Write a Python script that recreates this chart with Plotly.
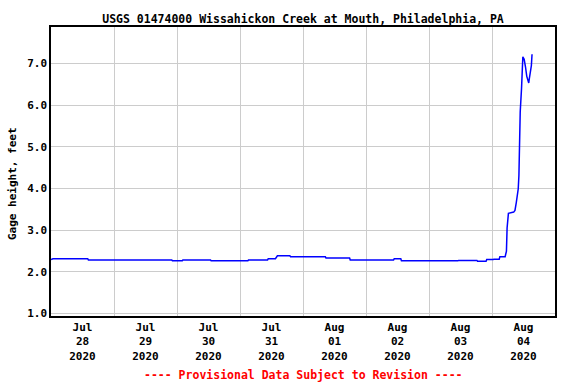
import plotly.graph_objects as go

# Gage height readings (feet)
times = [
    "2020-07-28 00:00", "2020-07-28 00:45", "2020-07-28 14:00", "2020-07-28 14:15",
    "2020-07-29 22:00", "2020-07-29 22:15", "2020-07-30 02:00", "2020-07-30 02:15",
    "2020-07-30 12:45", "2020-07-30 13:00", "2020-07-31 03:00", "2020-07-31 03:15",
    "2020-07-31 10:30", "2020-07-31 10:45", "2020-07-31 13:30", "2020-07-31 14:15",
    "2020-07-31 19:00", "2020-07-31 19:15", "2020-08-01 08:30", "2020-08-01 08:45",
    "2020-08-01 17:45", "2020-08-01 18:00", "2020-08-02 10:30", "2020-08-02 10:45",
    "2020-08-02 13:15", "2020-08-02 13:30", "2020-08-03 11:00", "2020-08-03 11:15",
    "2020-08-03 18:15", "2020-08-03 18:30", "2020-08-03 21:45", "2020-08-03 22:00",
    "2020-08-04 00:30", "2020-08-04 00:45", "2020-08-04 02:45", "2020-08-04 03:00",
    "2020-08-04 05:00", "2020-08-04 05:15", "2020-08-04 05:30", "2020-08-04 05:45",
    "2020-08-04 06:15", "2020-08-04 08:15", "2020-08-04 08:45", "2020-08-04 09:15",
    "2020-08-04 10:00", "2020-08-04 10:15", "2020-08-04 10:30", "2020-08-04 10:45",
    "2020-08-04 11:15", "2020-08-04 11:30", "2020-08-04 11:45", "2020-08-04 12:15",
    "2020-08-04 12:30", "2020-08-04 12:45", "2020-08-04 13:15", "2020-08-04 13:45",
    "2020-08-04 14:00", "2020-08-04 14:15", "2020-08-04 14:45", "2020-08-04 15:00",
    "2020-08-04 15:15",
]
gage_height = [
    2.29, 2.31, 2.31, 2.28,
    2.28, 2.26, 2.26, 2.28,
    2.28, 2.26, 2.26, 2.28,
    2.28, 2.31, 2.31, 2.38,
    2.38, 2.36, 2.36, 2.33,
    2.33, 2.28, 2.28, 2.31,
    2.31, 2.26, 2.26, 2.27,
    2.27, 2.25, 2.25, 2.29,
    2.29, 2.30, 2.30, 2.36,
    2.36, 2.42, 2.49, 3.05,
    3.40, 3.43, 3.47, 3.66,
    3.99, 4.31, 5.00, 5.84,
    6.40, 7.13, 7.16, 7.10,
    7.04, 6.92, 6.69, 6.57,
    6.53, 6.65, 6.86, 6.95,
    7.22,
]

day_label_pos = ["2020-07-28 12:00", "2020-07-29 12:00", "2020-07-30 12:00", "2020-07-31 12:00",
                 "2020-08-01 12:00", "2020-08-02 12:00", "2020-08-03 12:00", "2020-08-04 12:00"]
day_labels = ["Jul<br>28<br>2020", "Jul<br>29<br>2020", "Jul<br>30<br>2020", "Jul<br>31<br>2020",
              "Aug<br>01<br>2020", "Aug<br>02<br>2020", "Aug<br>03<br>2020", "Aug<br>04<br>2020"]
day_bounds = ["2020-07-29", "2020-07-30", "2020-07-31", "2020-08-01",
              "2020-08-02", "2020-08-03", "2020-08-04"]
y_ticks = [1, 2, 3, 4, 5, 6, 7]

FONT = "DejaVu Sans Mono"

fig = go.Figure()
fig.add_trace(go.Scatter(x=times, y=gage_height, mode="lines",
                         line=dict(color="#0000FF", width=1.5), showlegend=False))

fig.update_layout(
    width=576, height=384,
    margin=dict(l=51, r=21, t=27, b=68),
    paper_bgcolor="white", plot_bgcolor="white",
    font=dict(family=FONT, size=11, color="black", weight="bold"),
    title=dict(text="USGS 01474000 Wissahickon Creek at Mouth, Philadelphia, PA",
               x=303 / 576, xanchor="center", y=1 - 19 / 384, yanchor="middle",
               font=dict(family=FONT, size=11.5, color="black", weight="bold")),
    xaxis=dict(
        type="date", range=["2020-07-28", "2020-08-05"],
        tickmode="array", tickvals=day_label_pos, ticktext=day_labels,
        showgrid=False, ticks="", zeroline=False,
        showline=True, mirror=True, linecolor="black", linewidth=1.5,
        minor=dict(tickvals=day_bounds, showgrid=True, gridcolor="#CCCCCC", gridwidth=1, ticks=""),
        tickfont=dict(family=FONT, size=11, color="black", weight="bold"),
    ),
    yaxis=dict(
        range=[0.935, 7.875], tickmode="array", tickvals=y_ticks,
        tickformat=".1f", showgrid=True, gridcolor="#CCCCCC", gridwidth=1,
        ticks="", zeroline=False,
        showline=True, mirror=True, linecolor="black", linewidth=1.5,
        tickfont=dict(family=FONT, size=11, color="black", weight="bold"),
    ),
)

fig.add_annotation(text="Gage height, feet", textangle=-90,
                   xref="paper", yref="paper", x=(12 - 51) / 504, y=(316 - 184) / 289,
                   xanchor="center", yanchor="middle", showarrow=False,
                   font=dict(family=FONT, size=11, color="black", weight="bold"))
fig.add_annotation(text="---- Provisional Data Subject to Revision ----",
                   xref="paper", yref="paper", x=0.5, y=(316 - 375) / 289,
                   xanchor="center", yanchor="middle", showarrow=False,
                   font=dict(family=FONT, size=11.5, color="#FF0000", weight="bold"))

fig.write_html("out.html", config={"displayModeBar": False},
               post_script="document.body.style.margin='0';document.body.style.padding='0';")
